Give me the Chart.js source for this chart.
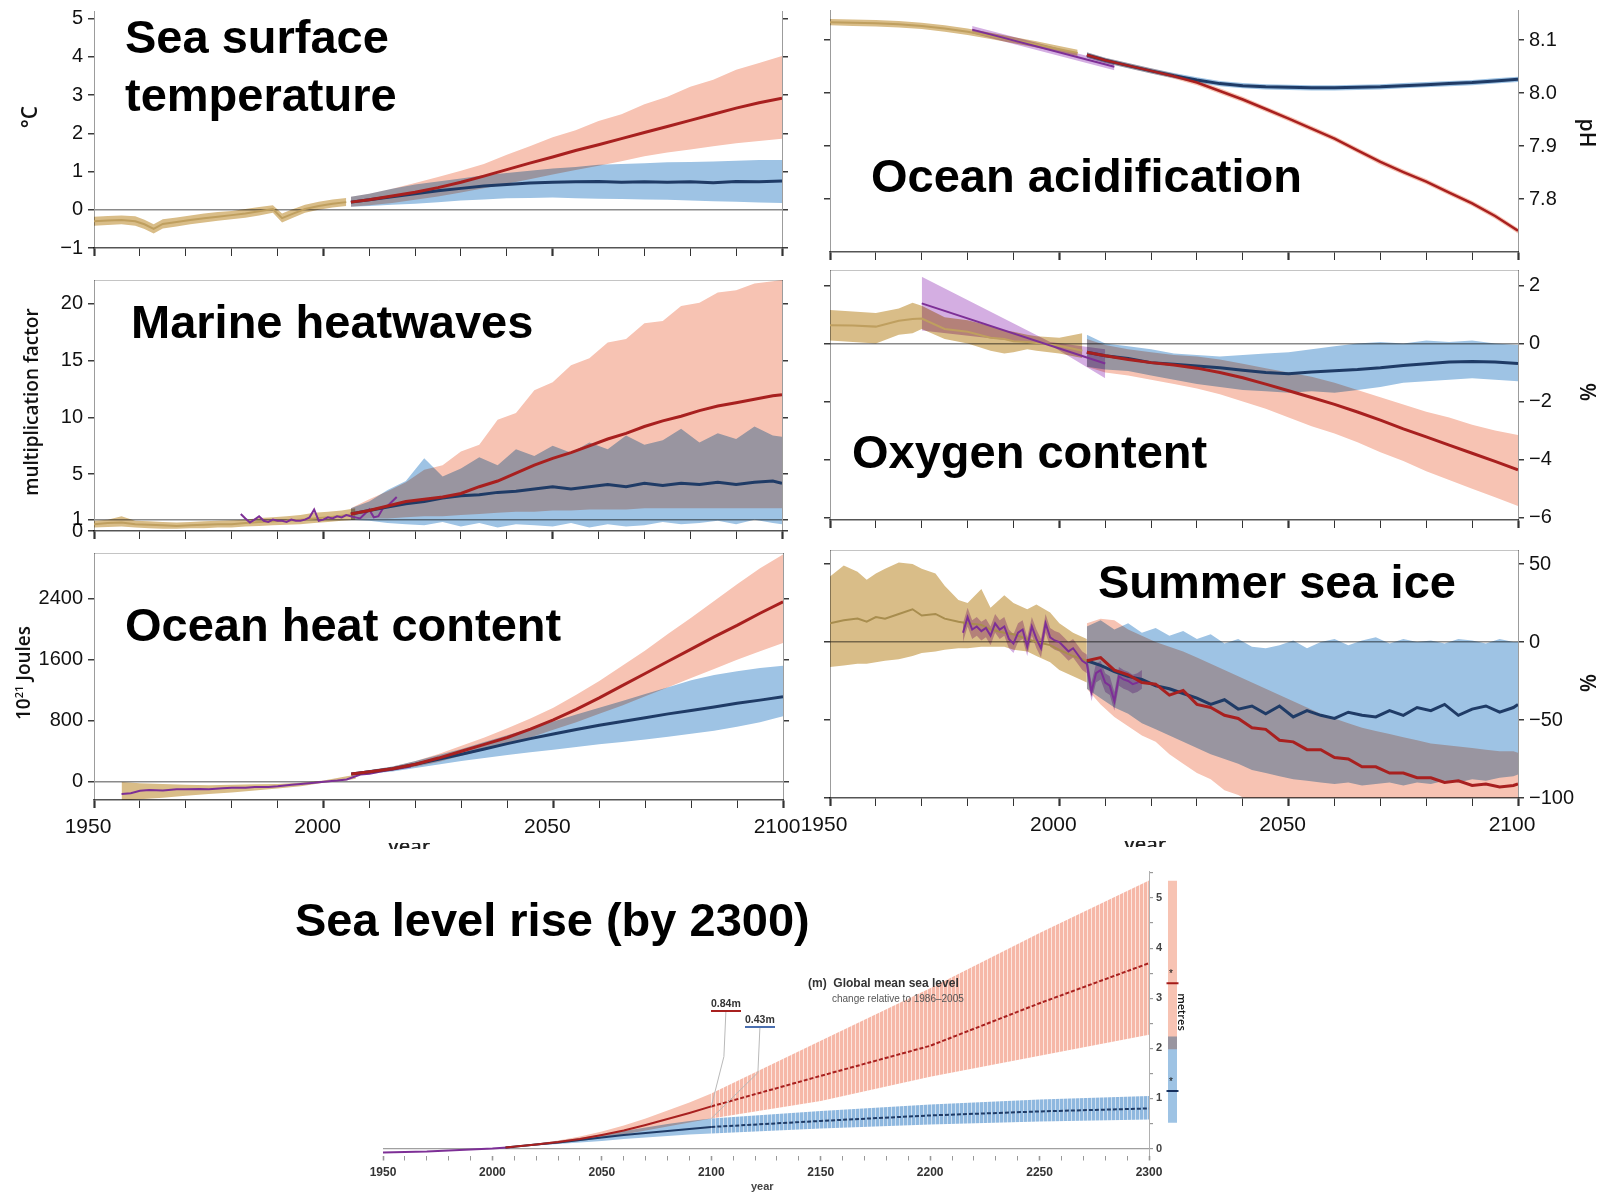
<!DOCTYPE html>
<html>
<head>
<meta charset="utf-8">
<title>Ocean change panels</title>
<script src="https://cdn.jsdelivr.net/npm/chart.js@4.4.1/dist/chart.umd.min.js"></script>
<style>
  body { margin: 0; background: #fff; }
  #page { position: relative; width: 1598px; height: 1193px; overflow: hidden; }
  canvas { position: absolute; }
  .title { position: absolute; font: bold 47px 'Liberation Sans', Arial, sans-serif; line-height: 47px; white-space: nowrap; color: #000; }
  .unit { position: absolute; font: 600 19px 'Open Sans', sans-serif; white-space: nowrap; color: #111; transform: translate(-50%, -50%) rotate(-90deg); }
  .unit.cw { transform: translate(-50%, -50%) rotate(90deg); }
  .clip { position: absolute; overflow: hidden; height: 6px; width: 60px; }
  .clip span { position: absolute; top: -7px; left: 0; font: 600 20px 'Open Sans', sans-serif; line-height: 20px; color: #222; }
  .note { position: absolute; white-space: nowrap; font-family: 'Liberation Sans', Arial, sans-serif; color: #333; line-height: 1.2; }
</style>
</head>
<body>
<div id="page">
  <canvas id="sst"></canvas>
  <canvas id="ph"></canvas>
  <canvas id="mhw"></canvas>
  <canvas id="oxy"></canvas>
  <canvas id="ohc"></canvas>
  <canvas id="ice"></canvas>
  <canvas id="slr"></canvas>
  <canvas id="slrBar"></canvas>

  <div class="title" style="left:125px;top:13px">Sea surface</div>
  <div class="title" style="left:125px;top:71px">temperature</div>
  <div class="title" style="left:871px;top:152px">Ocean acidification</div>
  <div class="title" style="left:131px;top:298px">Marine heatwaves</div>
  <div class="title" style="left:852px;top:428px">Oxygen content</div>
  <div class="title" style="left:125px;top:601px">Ocean heat content</div>
  <div class="title" style="left:1098px;top:558px">Summer sea ice</div>
  <div class="title" style="left:295px;top:896px">Sea level rise (by 2300)</div>

  <div class="unit" style="left:29px;top:117px;font-size:21px">°C</div>
  <div class="unit cw" style="left:1588px;top:133px;font-size:21px">pH</div>
  <div class="unit" style="left:31px;top:402px">multiplication factor</div>
  <div class="unit cw" style="left:1588px;top:392px;font-size:21px">%</div>
  <div class="unit" style="left:23px;top:673px">10<sup style="font-size:11px">21</sup> Joules</div>
  <div class="unit cw" style="left:1588px;top:683px;font-size:21px">%</div>
  <div class="clip" style="left:388px;top:843px"><span>year</span></div>
  <div class="clip" style="left:1124px;top:841px"><span>year</span></div>

  <div class="note" style="left:808px;top:976px;font-size:12px;font-weight:bold">(m)&nbsp; Global mean sea level</div>
  <div class="note" style="left:832px;top:993px;font-size:10px;color:#555">change relative to 1986–2005</div>
  <div class="note" id="lab85" style="left:711px;top:997px;font-size:10.5px;font-weight:bold;border-bottom:2px solid #a8201f">0.84m</div>
  <div class="note" id="lab26" style="left:745px;top:1013px;font-size:10.5px;font-weight:bold;border-bottom:2px solid #4a6fb0">0.43m</div>
  <div class="unit cw" style="left:1182px;top:1012px;font-size:11px">metres</div>
  <div class="note" style="left:1169px;top:968px;font-size:10px;color:#111">*</div>
  <div class="note" style="left:1169px;top:1076px;font-size:10px;color:#111">*</div>
  <div class="note" style="left:751px;top:1180px;font-size:11px;font-weight:bold;color:#444">year</div>
</div>

<script>
// ---- data ----
const projYears = [2006, 2010, 2015, 2020, 2025, 2030, 2035, 2040, 2045, 2050, 2055, 2060, 2065, 2070, 2075, 2080, 2085, 2090, 2095, 2100];

// sea surface temperature, degC
const sstHistYears = [1950, 1953, 1956, 1959, 1961, 1963, 1965, 1968, 1971, 1974, 1977, 1980, 1983, 1986, 1989, 1991, 1993, 1996, 1999, 2002, 2005];
const sstHist   = [-0.30, -0.28, -0.27, -0.30, -0.38, -0.50, -0.37, -0.32, -0.27, -0.22, -0.18, -0.14, -0.10, -0.04, 0.02, -0.22, -0.12, 0.02, 0.10, 0.16, 0.20];
const sstHistLo = [-0.42, -0.40, -0.38, -0.42, -0.50, -0.62, -0.49, -0.44, -0.38, -0.33, -0.29, -0.25, -0.21, -0.15, -0.08, -0.33, -0.23, -0.08, 0.00, 0.06, 0.10];
const sstHistHi = [-0.18, -0.16, -0.15, -0.17, -0.26, -0.38, -0.25, -0.20, -0.15, -0.10, -0.06, -0.03, 0.02, 0.07, 0.12, -0.10, 0.00, 0.13, 0.21, 0.27, 0.31];
const sstHigh   = [0.20, 0.26, 0.36, 0.46, 0.58, 0.72, 0.88, 1.05, 1.22, 1.38, 1.55, 1.70, 1.86, 2.02, 2.18, 2.34, 2.50, 2.66, 2.80, 2.92];
const sstHighLo = [0.08, 0.12, 0.18, 0.26, 0.35, 0.45, 0.56, 0.68, 0.80, 0.92, 1.04, 1.15, 1.27, 1.40, 1.50, 1.58, 1.66, 1.74, 1.80, 1.86];
const sstHighHi = [0.34, 0.42, 0.55, 0.70, 0.86, 1.02, 1.20, 1.44, 1.66, 1.90, 2.08, 2.32, 2.50, 2.76, 2.96, 3.22, 3.40, 3.66, 3.84, 4.02];
const sstLow    = [0.20, 0.26, 0.34, 0.42, 0.50, 0.56, 0.62, 0.66, 0.70, 0.72, 0.73, 0.74, 0.72, 0.73, 0.72, 0.73, 0.71, 0.74, 0.73, 0.75];
const sstLowLo  = [0.08, 0.10, 0.13, 0.16, 0.20, 0.24, 0.27, 0.30, 0.31, 0.32, 0.30, 0.29, 0.28, 0.27, 0.26, 0.24, 0.22, 0.21, 0.19, 0.18];
const sstLowHi  = [0.34, 0.42, 0.55, 0.66, 0.74, 0.82, 0.90, 0.96, 1.02, 1.08, 1.12, 1.18, 1.20, 1.22, 1.24, 1.25, 1.26, 1.28, 1.30, 1.30];
const sstTicks = [-1, 0, 1, 2, 3, 4, 5];

// surface pH
const phHistYears = [1950, 1955, 1960, 1965, 1970, 1975, 1980, 1985, 1990, 1995, 2000, 2004];
const phHist   = [8.134, 8.133, 8.132, 8.130, 8.127, 8.122, 8.116, 8.108, 8.100, 8.092, 8.083, 8.076];
const phHistLo = [8.128, 8.127, 8.126, 8.124, 8.121, 8.116, 8.110, 8.102, 8.094, 8.086, 8.077, 8.070];
const phHistHi = [8.140, 8.139, 8.138, 8.136, 8.133, 8.128, 8.122, 8.114, 8.106, 8.098, 8.089, 8.082];
const phObsYears = [1981, 2012];
const phObs   = [8.120, 8.050];
const phObsLo = [8.113, 8.043];
const phObsHi = [8.127, 8.057];
const phHigh   = [8.072, 8.062, 8.052, 8.042, 8.032, 8.020, 8.004, 7.988, 7.970, 7.952, 7.933, 7.914, 7.892, 7.870, 7.851, 7.833, 7.812, 7.792, 7.768, 7.740];
const phHighLo = [8.067, 8.057, 8.047, 8.037, 8.027, 8.015, 7.999, 7.983, 7.965, 7.947, 7.928, 7.909, 7.887, 7.865, 7.846, 7.828, 7.807, 7.787, 7.763, 7.735];
const phHighHi = [8.077, 8.067, 8.057, 8.047, 8.037, 8.025, 8.009, 7.993, 7.975, 7.957, 7.938, 7.919, 7.897, 7.875, 7.856, 7.838, 7.817, 7.797, 7.773, 7.745];
const phLow    = [8.072, 8.062, 8.052, 8.042, 8.033, 8.025, 8.018, 8.014, 8.012, 8.011, 8.010, 8.010, 8.011, 8.012, 8.014, 8.016, 8.018, 8.020, 8.023, 8.026];
const phLowLo  = [8.067, 8.057, 8.047, 8.037, 8.028, 8.020, 8.013, 8.009, 8.007, 8.006, 8.005, 8.005, 8.006, 8.007, 8.009, 8.011, 8.013, 8.015, 8.018, 8.021];
const phLowHi  = [8.077, 8.067, 8.057, 8.047, 8.038, 8.030, 8.023, 8.019, 8.017, 8.016, 8.015, 8.015, 8.016, 8.017, 8.019, 8.021, 8.023, 8.025, 8.028, 8.031];
const phTicks = [7.8, 7.9, 8.0, 8.1];

// marine heatwave days, multiplication factor
const mhwHistYears = [1950, 1953, 1956, 1959, 1962, 1965, 1968, 1971, 1974, 1977, 1980, 1983, 1986, 1989, 1992, 1995, 1998, 2001, 2004, 2007];
const mhwHist   = [0.6, 0.7, 0.75, 0.6, 0.55, 0.5, 0.45, 0.5, 0.55, 0.6, 0.6, 0.7, 0.8, 0.85, 0.9, 1.0, 1.1, 1.2, 1.35, 1.5];
const mhwHistLo = [0.3, 0.35, 0.4, 0.3, 0.25, 0.2, 0.2, 0.25, 0.25, 0.3, 0.3, 0.4, 0.45, 0.5, 0.55, 0.6, 0.7, 0.8, 0.9, 1.0];
const mhwHistHi = [0.9, 1.0, 1.3, 0.9, 0.85, 0.8, 0.75, 0.8, 0.85, 0.9, 0.95, 1.0, 1.15, 1.2, 1.3, 1.4, 1.6, 1.7, 1.8, 2.0];
const mhwObsYears = [1982, 1983, 1984, 1985, 1986, 1987, 1988, 1989, 1990, 1991, 1992, 1993, 1994, 1995, 1996, 1997, 1998, 1999, 2000, 2001, 2002, 2003, 2004, 2005, 2006, 2007, 2008, 2009, 2010, 2011, 2012, 2013, 2014, 2015, 2016];
const mhwObs = [1.5, 1.1, 0.75, 1.0, 1.3, 0.9, 0.8, 1.0, 0.9, 0.9, 0.8, 1.0, 0.9, 0.9, 1.0, 1.2, 1.9, 0.9, 1.0, 1.2, 1.1, 1.3, 1.2, 1.4, 1.3, 1.2, 1.1, 1.5, 1.9, 1.2, 1.3, 2.0, 2.2, 2.6, 3.0];
const mhwYears = [2006, 2010, 2014, 2018, 2022, 2026, 2030, 2034, 2038, 2042, 2046, 2050, 2054, 2058, 2062, 2066, 2070, 2074, 2078, 2082, 2086, 2090, 2094, 2098, 2100];
const mhwHigh   = [1.5, 1.8, 2.2, 2.6, 2.8, 3.0, 3.3, 3.9, 4.4, 5.1, 5.8, 6.4, 6.9, 7.5, 8.1, 8.6, 9.2, 9.7, 10.1, 10.6, 11.0, 11.3, 11.6, 11.9, 12.0];
const mhwHighLo = [1.0, 1.1, 1.1, 1.2, 1.3, 1.3, 1.4, 1.5, 1.6, 1.7, 1.7, 1.8, 1.8, 1.9, 1.9, 1.9, 2.0, 2.0, 2.0, 2.0, 2.0, 2.0, 2.0, 2.0, 2.0];
const mhwHighHi = [2.0, 2.8, 3.5, 4.3, 5.4, 5.8, 7.0, 7.6, 9.8, 10.4, 12.4, 13.1, 14.6, 15.2, 16.6, 16.9, 18.3, 18.5, 19.8, 20.1, 21.0, 21.2, 21.8, 22.0, 22.1];
const mhwLow    = [1.5, 1.8, 2.1, 2.4, 2.6, 2.9, 3.1, 3.2, 3.4, 3.5, 3.7, 3.9, 3.7, 3.9, 4.1, 3.9, 4.2, 4.0, 4.2, 4.1, 4.3, 4.1, 4.3, 4.4, 4.2];
const mhwLowLo  = [1.0, 0.9, 0.7, 0.6, 0.5, 0.8, 0.4, 0.7, 0.3, 0.6, 0.5, 0.4, 0.7, 0.3, 0.6, 0.4, 0.5, 0.8, 0.6, 0.7, 0.9, 0.6, 1.0, 0.7, 0.6];
const mhwLowHi  = [2.0, 2.6, 3.6, 4.4, 6.4, 4.8, 5.5, 6.5, 5.8, 7.2, 6.6, 7.5, 6.9, 7.8, 7.2, 8.4, 7.6, 8.0, 9.0, 7.8, 8.6, 8.1, 9.2, 8.4, 8.3];
const mhwTicks = [0, 1, 5, 10, 15, 20];

// oxygen content, %
const oxHistYears = [1950, 1955, 1960, 1965, 1968, 1970, 1975, 1980, 1985, 1988, 1990, 1993, 1995, 2000, 2005];
const oxHist   = [0.63, 0.62, 0.58, 0.78, 0.84, 0.86, 0.50, 0.40, 0.20, 0.15, 0.08, 0.05, 0.02, -0.08, -0.25];
const oxHistLo = [0.10, 0.05, 0.00, 0.30, 0.35, 0.50, 0.15, 0.00, -0.25, -0.35, -0.30, -0.20, -0.25, -0.35, -0.50];
const oxHistHi = [1.15, 1.10, 1.05, 1.20, 1.40, 1.30, 0.90, 0.80, 0.60, 0.45, 0.40, 0.30, 0.25, 0.20, 0.35];
const oxObsYears = [1970, 2010];
const oxObs = [1.38, -0.69];
const oxObsBandYears = [1970, 1998, 2010];
const oxObsLo = [0.45, -0.05, -1.2];
const oxObsHi = [2.3, 0.05, -0.2];
const oxHigh   = [-0.30, -0.42, -0.55, -0.66, -0.74, -0.85, -1.00, -1.18, -1.40, -1.63, -1.86, -2.10, -2.36, -2.64, -2.94, -3.22, -3.50, -3.78, -4.06, -4.35];
const oxHighLo = [-0.8, -1.0, -1.1, -1.25, -1.4, -1.55, -1.75, -2.0, -2.25, -2.55, -2.85, -3.1, -3.4, -3.75, -4.05, -4.4, -4.7, -5.0, -5.3, -5.6];
const oxHighHi = [0.15, -0.05, -0.2, -0.3, -0.4, -0.45, -0.55, -0.7, -0.85, -1.0, -1.15, -1.35, -1.6, -1.85, -2.1, -2.35, -2.55, -2.8, -3.0, -3.15];
const oxLow    = [-0.30, -0.42, -0.52, -0.66, -0.72, -0.78, -0.84, -0.92, -1.0, -1.04, -0.98, -0.94, -0.90, -0.84, -0.76, -0.70, -0.64, -0.62, -0.64, -0.69];
const oxLowLo  = [-0.8, -0.9, -0.95, -1.1, -1.25, -1.4, -1.5, -1.6, -1.65, -1.7, -1.65, -1.7, -1.6, -1.5, -1.35, -1.3, -1.25, -1.2, -1.25, -1.3];
const oxLowHi  = [0.3, 0.0, -0.1, -0.2, -0.35, -0.4, -0.45, -0.4, -0.35, -0.3, -0.2, -0.1, 0.0, 0.05, 0.0, 0.1, 0.05, 0.1, 0.0, -0.05];
const oxTicks = [-6, -4, -2, 0, 2];

// ocean heat content, 10^21 J
const ohcHistYears = [1956, 1960, 1965, 1970, 1975, 1980, 1985, 1990, 1995, 2000, 2005, 2007];
const ohcHistLo = [-250, -230, -210, -185, -160, -140, -115, -90, -60, -15, 20, 40];
const ohcHistHi = [-5, -20, -30, -40, -45, -40, -35, -30, -15, 15, 70, 90];
const ohcObsYears = [1956, 1958, 1960, 1962, 1965, 1968, 1970, 1973, 1975, 1978, 1980, 1983, 1985, 1988, 1990, 1993, 1995, 1998, 2000, 2003, 2005, 2008, 2010, 2013, 2016, 2019];
const ohcObs = [-160, -150, -120, -110, -115, -100, -100, -95, -100, -85, -80, -78, -70, -70, -60, -40, -30, -15, 0, 15, 30, 95, 105, 140, 170, 200];
const ohcHigh   = [100, 130, 170, 230, 310, 400, 490, 580, 690, 810, 950, 1100, 1260, 1420, 1580, 1740, 1900, 2050, 2210, 2360];
const ohcHighLo = [85, 110, 145, 195, 260, 340, 415, 495, 580, 680, 780, 890, 1000, 1120, 1240, 1360, 1480, 1600, 1710, 1820];
const ohcHighHi = [115, 150, 200, 270, 365, 470, 580, 700, 830, 970, 1140, 1320, 1520, 1720, 1940, 2150, 2370, 2590, 2800, 2980];
const ohcLow    = [100, 130, 170, 230, 295, 360, 430, 500, 565, 625, 685, 740, 790, 840, 890, 935, 980, 1030, 1070, 1115];
const ohcLowLo  = [85, 105, 135, 180, 225, 270, 310, 350, 385, 420, 455, 490, 520, 555, 590, 630, 670, 720, 780, 860];
const ohcLowHi  = [115, 155, 200, 270, 350, 430, 520, 610, 700, 790, 880, 970, 1060, 1150, 1240, 1330, 1400, 1450, 1490, 1520];
const ohcTicks = [0, 800, 1600, 2400];

// summer sea ice, %
const iceHistYears = [1950, 1953, 1956, 1958, 1960, 1962, 1965, 1968, 1970, 1973, 1975, 1978, 1980, 1983, 1985, 1988, 1990, 1993, 1995, 1998, 2000, 2003, 2006];
const iceHist   = [12, 14, 15, 13, 16, 15, 18, 21, 17, 18, 15, 13, 12, 11, 8, 6, 5, 2, 0, -2, -5, -9, -12];
const iceHistLo = [-16, -15, -14, -14, -13, -12, -11, -9, -7, -6, -5, -4, -4, -3, -3, -3, -5, -6, -9, -13, -18, -22, -26];
const iceHistHi = [42, 49, 45, 40, 44, 47, 51, 50, 47, 44, 36, 27, 25, 34, 22, 30, 25, 21, 24, 19, 12, 6, 2];
const iceObsYears = [1979, 1980, 1981, 1982, 1983, 1984, 1985, 1986, 1987, 1988, 1989, 1990, 1991, 1992, 1993, 1994, 1995, 1996, 1997, 1998, 1999, 2000, 2001, 2002, 2003, 2004, 2005, 2006, 2007, 2008, 2009, 2010, 2011, 2012, 2013, 2014, 2015, 2016, 2017, 2018];
const iceObs   = [6, 16, 8, 10, 7, 9, 4, 12, 8, 10, 2, -1, 6, 8, -3, 10, 2, -4, 12, 3, 1, 0, -3, -6, -4, -8, -12, -14, -32, -20, -18, -26, -28, -38, -22, -24, -25, -27, -26, -24];
const iceObsLo = [0, 10, 2, 4, 1, 3, -2, 6, 2, 4, -4, -7, 0, 2, -9, 4, -4, -10, 6, -3, -5, -6, -9, -12, -10, -14, -18, -20, -38, -26, -24, -32, -34, -44, -28, -30, -31, -33, -32, -30];
const iceObsHi = [12, 22, 14, 16, 13, 15, 10, 18, 14, 16, 8, 5, 12, 14, 3, 16, 8, 2, 18, 9, 7, 6, 3, 0, 2, -2, -6, -8, -26, -14, -12, -20, -22, -32, -16, -18, -19, -21, -20, -18];
const iceYears = [2006, 2009, 2012, 2015, 2018, 2021, 2024, 2027, 2030, 2033, 2036, 2039, 2042, 2045, 2048, 2051, 2054, 2057, 2060, 2063, 2066, 2069, 2072, 2075, 2078, 2081, 2084, 2087, 2090, 2093, 2096, 2099, 2100];
const iceLow    = [-12, -15, -19, -22, -24, -28, -30, -33, -36, -40, -37, -43, -41, -46, -41, -48, -44, -47, -49, -45, -47, -48, -44, -47, -42, -44, -40, -47, -43, -41, -45, -42, -40];
const iceLowLo  = [-30, -36, -42, -46, -52, -56, -60, -64, -68, -72, -75, -78, -82, -84, -86, -88, -89, -90, -91, -90, -92, -91, -90, -92, -90, -91, -89, -90, -88, -89, -87, -86, -85];
const iceLowHi  = [10, 14, 8, 12, 6, 9, 4, 7, 2, 5, -1, 2, -3, -4, -2, 1, -4, 0, 2, -2, 1, 3, -1, 2, 0, 1, -1, 2, 1, -1, 2, 0, 0];
const iceHigh   = [-12, -10, -18, -21, -26, -27, -34, -31, -40, -42, -47, -49, -55, -56, -63, -64, -69, -69, -74, -75, -80, -80, -84, -84, -87, -87, -90, -89, -92, -91, -93, -92, -91];
const iceHighLo = [-30, -40, -48, -54, -60, -64, -72, -78, -84, -88, -95, -98, -103, -105, -105, -105, -105, -105, -105, -105, -105, -105, -105, -105, -105, -105, -105, -105, -105, -105, -105, -105, -105];
const iceHighHi = [12, 15, 14, 8, 4, 0, -3, -6, -10, -14, -18, -22, -26, -30, -34, -38, -42, -46, -49, -52, -55, -57, -59, -61, -63, -65, -66, -67, -68, -69, -70, -70, -71];
const iceTicks = [-100, -50, 0, 50];

// global mean sea level, m
const slObsYears = [1950, 1960, 1970, 1980, 1990, 2000, 2010];
const slObs = [-0.08, -0.07, -0.06, -0.04, -0.02, 0.0, 0.03];
const slYears = [2006, 2020, 2030, 2040, 2050, 2060, 2070, 2080, 2090, 2100];
const slHigh   = [0.02, 0.08, 0.13, 0.19, 0.27, 0.36, 0.47, 0.59, 0.71, 0.84];
const slHighLo = [0.01, 0.06, 0.10, 0.15, 0.21, 0.28, 0.36, 0.44, 0.52, 0.60];
const slHighHi = [0.03, 0.10, 0.16, 0.24, 0.34, 0.46, 0.60, 0.76, 0.92, 1.10];
const slLow    = [0.02, 0.08, 0.12, 0.17, 0.22, 0.27, 0.31, 0.35, 0.39, 0.43];
const slLowLo  = [0.01, 0.06, 0.09, 0.12, 0.15, 0.19, 0.22, 0.25, 0.28, 0.30];
const slLowHi  = [0.03, 0.10, 0.15, 0.21, 0.28, 0.35, 0.42, 0.49, 0.55, 0.60];
const slLongYears = [2100, 2150, 2200, 2250, 2300];
const slLongHigh   = [0.84, 1.45, 2.05, 2.90, 3.70];
const slLongHighLo = [0.60, 0.95, 1.43, 1.85, 2.27];
const slLongHighHi = [1.10, 2.15, 3.20, 4.30, 5.35];
const slLongLow    = [0.43, 0.55, 0.66, 0.74, 0.80];
const slLongLowLo  = [0.30, 0.40, 0.48, 0.54, 0.58];
const slLongLowHi  = [0.60, 0.75, 0.88, 0.98, 1.05];
const slRange2300Low = [0.52, 2.23];
const slRange2300High = [1.99, 5.34];
const slMedian2300Low = 1.15;
const slMedian2300High = 3.30;
const slTicks = [0, 0.5, 1, 1.5, 2, 2.5, 3, 3.5, 4, 4.5, 5, 5.5];

// ---- styling ----
const RED = '#a8201f', NAVY = '#1f3b66', PURPLE = '#7d2f96', TANLINE = '#bf9f5f';
const PINK = '#f7c3b3', BLUE = '#9ec3e4', TAN = '#d9bd88', LILAC = '#d4aee2';
const SANS = "'Liberation Sans', Arial, sans-serif";

Chart.defaults.elements.point.radius = 0;
Chart.defaults.elements.point.hoverRadius = 0;

// bands overlap like ink (pink x blue gives the grey-violet of the figure);
// the fills are drawn before this plugin's beforeDatasetsDraw, lines after it
const multiply = {
  id: 'multiply',
  beforeDraw(chart) { chart.ctx.globalCompositeOperation = 'multiply'; },
  beforeDatasetsDraw(chart) { chart.ctx.globalCompositeOperation = 'source-over'; },
  afterDraw(chart) { chart.ctx.globalCompositeOperation = 'source-over'; }
};
const multiplyAll = {
  id: 'multiplyAll',
  beforeDraw(chart) { chart.ctx.globalCompositeOperation = 'multiply'; },
  afterDraw(chart) { chart.ctx.globalCompositeOperation = 'source-over'; }
};

function pts(xs, ys) { return xs.map((x, i) => ({ x: x, y: ys[i] })); }

function line(xs, ys, color, width, extra) {
  return Object.assign({ data: pts(xs, ys), borderColor: color, borderWidth: width, fill: false, order: 0 }, extra || {});
}

function band(xs, lo, hi, color) {
  return [
    { data: pts(xs, lo), borderColor: 'rgba(0,0,0,0)', borderWidth: 0, fill: false, order: 1 },
    { data: pts(xs, hi), borderColor: 'rgba(0,0,0,0)', borderWidth: 0, backgroundColor: color, fill: '-1', order: 1 }
  ];
}

function minus(v) { return String(v).replace('-', '\u2212'); }

function place(id, box) {
  const cv = document.getElementById(id);
  cv.width = box[2]; cv.height = box[3];
  cv.style.left = box[0] + 'px'; cv.style.top = box[1] + 'px';
  return cv;
}

function makePanel(id, cfg) {
  const [cl, ct, cw, ch] = cfg.canvas;
  const [al, at, ar, ab] = cfg.area;
  const cv = place(id, cfg.canvas);
  const wLeft = al - cl, wRight = cl + cw - ar, hTop = at - ct, hBottom = ct + ch - ab;
  const fmt = cfg.fmt || minus;
  const other = cfg.ySide === 'left' ? 'right' : 'left';

  function yAxis(pos, labelled) {
    const width = pos === 'left' ? wLeft : wRight;
    return {
      type: 'linear', position: pos, min: cfg.yMin, max: cfg.yMax,
      afterBuildTicks: s => { s.ticks = cfg.yTicks.map(v => ({ value: v })); },
      afterFit: s => { s.width = width; s.paddingTop = 0; s.paddingBottom = 0; },
      border: { color: '#9c9c9c', width: 1 },
      grid: {
        drawOnChartArea: labelled && cfg.zero !== undefined,
        color: c => (c.tick && c.tick.value === cfg.zero) ? '#8a8a8a' : 'rgba(0,0,0,0)',
        lineWidth: 1.5, tickLength: 6, tickColor: '#3a3a3a', tickWidth: 1.5
      },
      ticks: { display: labelled, font: { family: SANS, size: 20 }, color: '#111', padding: 5, callback: v => fmt(v) }
    };
  }

  const scales = {
    x: {
      type: 'linear', position: 'bottom', min: 1950, max: 2100,
      afterFit: s => { s.height = hBottom; s.paddingLeft = 0; s.paddingRight = 0; },
      border: { color: '#555', width: 1.5 },
      grid: {
        drawOnChartArea: false, tickLength: 8, tickColor: '#333',
        tickWidth: c => (c.tick && c.tick.value % 50 === 0) ? 2.2 : 1
      },
      ticks: {
        stepSize: 10, autoSkip: false, maxRotation: 0, display: !!cfg.xLabels,
        font: { family: SANS, size: 21 }, color: '#111', padding: 7, labelOffset: -6,
        callback: v => (v % 50 === 0 ? String(v) : '')
      }
    },
    xt: {
      type: 'linear', position: 'top', min: 1950, max: 2100, display: !!cfg.topBorder,
      afterFit: s => { s.height = 0; },
      border: { display: true, color: '#c4c4c4' },
      grid: { display: false, drawTicks: false },
      ticks: { display: false }
    },
    y: yAxis(cfg.ySide, true),
    y2: yAxis(other, false)
  };

  return new Chart(cv, {
    type: 'line',
    data: { datasets: cfg.datasets },
    options: {
      responsive: false, animation: false, events: [],
      layout: { padding: { top: hTop, left: 0, right: 0, bottom: 0 } },
      plugins: { legend: { display: false }, tooltip: { enabled: false }, filler: { drawTime: 'beforeDatasetsDraw' } },
      scales: scales
    },
    plugins: [multiply]
  });
}

// ---- the six 1950-2100 panels ----
makePanel('sst', {
  canvas: [0, 0, 800, 262], area: [94, 11, 782, 248],
  yMin: -1, yMax: 5.2, yTicks: sstTicks, ySide: 'left', zero: 0,
  datasets: [
    line(projYears, sstHigh, RED, 3),
    line(projYears, sstLow, NAVY, 3),
    line(sstHistYears, sstHist, TANLINE, 2),
    ...band(projYears, sstHighLo, sstHighHi, PINK),
    ...band(projYears, sstLowLo, sstLowHi, BLUE),
    ...band(sstHistYears, sstHistLo, sstHistHi, TAN)
  ]
});

makePanel('ph', {
  canvas: [800, 0, 798, 264], area: [830, 10, 1518, 252],
  yMin: 7.7, yMax: 8.157, yTicks: phTicks, ySide: 'right',
  fmt: v => v.toFixed(1),
  datasets: [
    line(projYears, phHigh, RED, 2.5),
    line(projYears, phLow, NAVY, 3),
    line(phObsYears, phObs, PURPLE, 2),
    line(phHistYears, phHist, TANLINE, 2),
    ...band(projYears, phHighLo, phHighHi, PINK),
    ...band(projYears, phLowLo, phLowHi, BLUE),
    ...band(phObsYears, phObsLo, phObsHi, LILAC),
    ...band(phHistYears, phHistLo, phHistHi, TAN)
  ]
});

makePanel('mhw', {
  canvas: [0, 266, 800, 279], area: [94, 280, 782, 531],
  yMin: 0, yMax: 22.1, yTicks: mhwTicks, ySide: 'left', zero: 1, topBorder: true,
  datasets: [
    line(mhwYears, mhwHigh, RED, 3),
    line(mhwYears, mhwLow, NAVY, 3),
    line(mhwObsYears, mhwObs, PURPLE, 2),
    line(mhwHistYears, mhwHist, TANLINE, 2),
    ...band(mhwYears, mhwHighLo, mhwHighHi, PINK),
    ...band(mhwYears, mhwLowLo, mhwLowHi, BLUE),
    ...band(mhwHistYears, mhwHistLo, mhwHistHi, TAN)
  ]
});

makePanel('oxy', {
  canvas: [800, 262, 798, 270], area: [830, 270, 1518, 520],
  yMin: -6.08, yMax: 2.53, yTicks: oxTicks, ySide: 'right', zero: 0, topBorder: true,
  datasets: [
    line(projYears, oxHigh, RED, 3),
    line(projYears, oxLow, NAVY, 3),
    line(oxObsYears, oxObs, PURPLE, 2),
    line(oxHistYears, oxHist, TANLINE, 2),
    ...band(projYears, oxHighLo, oxHighHi, PINK),
    ...band(projYears, oxLowLo, oxLowHi, BLUE),
    ...band(oxObsBandYears, oxObsLo, oxObsHi, LILAC),
    ...band(oxHistYears, oxHistLo, oxHistHi, TAN)
  ]
});

makePanel('ohc', {
  canvas: [0, 545, 800, 300], area: [94, 553, 783, 800],
  yMin: -240, yMax: 3000, yTicks: ohcTicks, ySide: 'left', zero: 0, topBorder: true, xLabels: true,
  datasets: [
    line(projYears, ohcHigh, RED, 3),
    line(projYears, ohcLow, NAVY, 3),
    line(ohcObsYears, ohcObs, PURPLE, 2),
    ...band(projYears, ohcHighLo, ohcHighHi, PINK),
    ...band(projYears, ohcLowLo, ohcLowHi, BLUE),
    ...band(ohcHistYears, ohcHistLo, ohcHistHi, TAN)
  ]
});

makePanel('ice', {
  canvas: [800, 535, 798, 310], area: [830, 550, 1518, 798],
  yMin: -100, yMax: 59, yTicks: iceTicks, ySide: 'right', zero: 0, topBorder: true, xLabels: true,
  datasets: [
    line(iceYears, iceHigh, RED, 3),
    line(iceYears, iceLow, NAVY, 3),
    line(iceObsYears, iceObs, PURPLE, 2),
    line(iceHistYears, iceHist, '#a88d4e', 2),
    ...band(iceYears, iceHighLo, iceHighHi, PINK),
    ...band(iceYears, iceLowLo, iceLowHi, BLUE),
    ...band(iceObsYears, iceObsLo, iceObsHi, LILAC),
    ...band(iceHistYears, iceHistLo, iceHistHi, TAN)
  ]
});

// ---- sea level to 2300 ----
function stripes(c1, c2) {
  const p = document.createElement('canvas');
  p.width = 4; p.height = 4;
  const g = p.getContext('2d');
  g.fillStyle = c2; g.fillRect(0, 0, 4, 4);
  g.fillStyle = c1; g.fillRect(0, 0, 3, 4);
  return g.createPattern(p, 'repeat');
}

// thin leader lines from the 0.84m / 0.43m labels to the 2100 values
const leaders = {
  id: 'leaders',
  afterDatasetsDraw(chart) {
    const ctx = chart.ctx, xs = chart.scales.x, ys = chart.scales.y;
    const cr = chart.canvas.getBoundingClientRect();
    const targets = [['lab85', slHigh[slHigh.length - 1]], ['lab26', slLowHi[slLowHi.length - 1]]];
    ctx.save();
    ctx.globalCompositeOperation = 'source-over';
    ctx.strokeStyle = '#b9b9b9';
    ctx.lineWidth = 1;
    targets.forEach(([id, val]) => {
      const r = document.getElementById(id).getBoundingClientRect();
      const x0 = r.left + r.width / 2 - cr.left, y0 = r.bottom - cr.top;
      ctx.beginPath();
      ctx.moveTo(x0, y0);
      ctx.lineTo(x0 - 2, y0 + 45);
      ctx.lineTo(xs.getPixelForValue(2100), ys.getPixelForValue(val));
      ctx.stroke();
    });
    ctx.restore();
  }
};

(function () {
  const box = [300, 850, 900, 343];
  const cv = place('slr', box);
  const top = 871 - 850, bottom = 1193 - 1155.5, left = 383 - 300, right = 1200 - 1149;
  new Chart(cv, {
    type: 'line',
    data: {
      datasets: [
        line(slLongYears, slLongHigh, RED, 2, { borderDash: [4, 2] }),
        line(slLongYears, slLongLow, NAVY, 2, { borderDash: [4, 2] }),
        line(slYears, slHigh, RED, 2),
        line(slYears, slLow, NAVY, 2),
        line(slObsYears, slObs, PURPLE, 2),
        ...band(slYears, slHighLo, slHighHi, PINK),
        ...band(slYears, slLowLo, slLowHi, BLUE),
        ...band(slLongYears, slLongHighLo, slLongHighHi, stripes('#f6b8a8', '#fde6df')),
        ...band(slLongYears, slLongLowLo, slLongLowHi, stripes('#8fb8df', '#cfe0f1'))
      ]
    },
    options: {
      responsive: false, animation: false, events: [],
      layout: { padding: { top: top, left: left, right: 0, bottom: 0 } },
      plugins: { legend: { display: false }, tooltip: { enabled: false }, filler: { drawTime: 'beforeDatasetsDraw' } },
      scales: {
        x: {
          type: 'linear', position: 'bottom', min: 1950, max: 2300,
          afterFit: s => { s.height = bottom; s.paddingLeft = 0; s.paddingRight = 0; },
          border: { display: false },
          grid: {
            drawOnChartArea: false, tickLength: 5, tickColor: '#999',
            tickWidth: c => (c.tick && c.tick.value % 50 === 0) ? 1.6 : 1
          },
          ticks: {
            stepSize: 10, autoSkip: false, maxRotation: 0,
            font: { family: SANS, size: 12, weight: 'bold' }, color: '#333', padding: 5,
            callback: v => (v % 50 === 0 ? String(v) : '')
          }
        },
        y: {
          type: 'linear', position: 'right', min: -0.14, max: 5.54,
          afterBuildTicks: s => { s.ticks = slTicks.map(v => ({ value: v })); },
          afterFit: s => { s.width = right; s.paddingTop = 0; s.paddingBottom = 0; },
          border: { color: '#b0b0b0', width: 1 },
          grid: {
            color: c => (c.tick && c.tick.value === 0) ? '#a0a0a0' : 'rgba(0,0,0,0)',
            lineWidth: 1.2, tickLength: 4, tickColor: '#999'
          },
          ticks: {
            font: { family: SANS, size: 11, weight: 'bold' }, color: '#444', padding: 3,
            callback: v => (Number.isInteger(v) ? String(v) : '')
          }
        }
      }
    },
    plugins: [multiply, leaders]
  });
})();

// likely range in 2300, drawn as floating bars beside the axis
(function () {
  const cv = place('slrBar', [1160, 850, 30, 343]);
  new Chart(cv, {
    type: 'bar',
    data: {
      labels: ['2300'],
      datasets: [
        { type: 'line', data: [slMedian2300High], showLine: false, pointStyle: 'line', pointRadius: 6, pointBorderWidth: 2, pointBorderColor: RED, order: 0 },
        { type: 'line', data: [slMedian2300Low], showLine: false, pointStyle: 'line', pointRadius: 6, pointBorderWidth: 2, pointBorderColor: NAVY, order: 0 },
        { data: [slRange2300High], backgroundColor: PINK, order: 1 },
        { data: [slRange2300Low], backgroundColor: BLUE, order: 1 }
      ]
    },
    options: {
      responsive: false, animation: false, events: [],
      layout: { padding: { left: 7, right: 13, top: 21, bottom: 37.5 } },
      datasets: { bar: { grouped: false, barPercentage: 1, categoryPercentage: 1 } },
      plugins: { legend: { display: false }, tooltip: { enabled: false } },
      scales: { x: { display: false }, y: { display: false, min: -0.14, max: 5.54 } }
    },
    plugins: [multiplyAll]
  });
})();
</script>
</body>
</html>
